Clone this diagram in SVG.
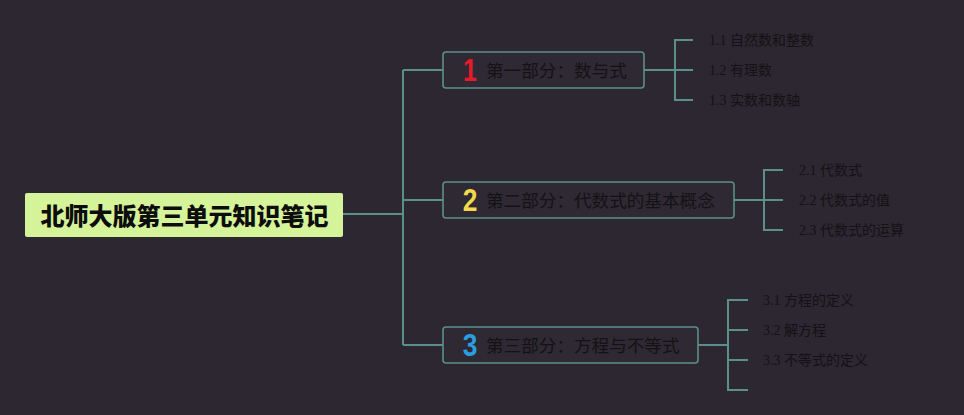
<svg xmlns="http://www.w3.org/2000/svg" width="964" height="415" viewBox="0 0 964 415">
<style>
.ln{fill:none;stroke:#5b8f8a;stroke-width:2}
.tb{fill:#2e2932;stroke:#5b8f8a;stroke-width:1.6}
.tt{font-family:"Noto Sans CJK SC","Liberation Sans",sans-serif;font-size:17.6px;fill:#141216}
.num{font-family:"Liberation Sans",sans-serif;font-weight:bold;font-size:31px;text-anchor:middle}
.lf{font-family:"Liberation Serif","Noto Sans CJK SC",serif;font-size:14px;fill:#141216}
.lf tspan{font-family:"Noto Sans CJK SC",sans-serif}
</style>
<rect width="964" height="415" fill="#2c2730"/>
<g id="connectors">
<path class="ln" d="M343 214H403M403 70V345M403 70H443M403 200H443M403 345H443"/>
<path class="ln" d="M644 70H675M693 40H675V100H693M675 70H693"/>
<path class="ln" d="M734 200H764M783 170H764V230H783M764 200H783"/>
<path class="ln" d="M698 345H728M748 300H728V390H748M728 330H748M728 360H748"/>
</g>
<g id="root">
<rect x="25" y="193" width="318" height="44" rx="2" fill="#d5f49a"/>
<text x="184.5" y="224.5" text-anchor="middle" font-family="Noto Sans CJK SC,sans-serif" font-weight="900" font-size="24px" fill="#0d0d0d">北师大版第三单元知识笔记</text>
</g>
<g id="topic1">
<rect class="tb" x="443" y="52" width="201" height="36" rx="3"/>
<text class="num" x="470" y="81.5" fill="#e8192c" transform="translate(470 0) scale(0.8 1) translate(-470 0)">1</text>
<text class="tt" x="486" y="76.5">第一部分：数与式</text>
</g>
<g id="topic2">
<rect class="tb" x="443" y="182" width="291" height="36" rx="3"/>
<text class="num" x="470" y="211.5" fill="#f2d94c" transform="translate(470 0) scale(0.85 1) translate(-470 0)">2</text>
<text class="tt" x="486" y="206.5">第二部分：代数式的基本概念</text>
</g>
<g id="topic3">
<rect class="tb" x="443" y="327" width="255" height="36" rx="3"/>
<text class="num" x="470" y="356.5" fill="#2a9ee0" transform="translate(470 0) scale(0.85 1) translate(-470 0)">3</text>
<text class="tt" x="486" y="351.5">第三部分：方程与不等式</text>
</g>
<g id="leaf1-1"><text class="lf" x="709" y="45">1.1 <tspan>自然数和整数</tspan></text></g>
<g id="leaf1-2"><text class="lf" x="709" y="75">1.2 <tspan>有理数</tspan></text></g>
<g id="leaf1-3"><text class="lf" x="709" y="105">1.3 <tspan>实数和数轴</tspan></text></g>
<g id="leaf2-1"><text class="lf" x="799" y="175">2.1 <tspan>代数式</tspan></text></g>
<g id="leaf2-2"><text class="lf" x="799" y="205">2.2 <tspan>代数式的值</tspan></text></g>
<g id="leaf2-3"><text class="lf" x="799" y="235">2.3 <tspan>代数式的运算</tspan></text></g>
<g id="leaf3-1"><text class="lf" x="763" y="305">3.1 <tspan>方程的定义</tspan></text></g>
<g id="leaf3-2"><text class="lf" x="763" y="335">3.2 <tspan>解方程</tspan></text></g>
<g id="leaf3-3"><text class="lf" x="763" y="365">3.3 <tspan>不等式的定义</tspan></text></g>
</svg>
